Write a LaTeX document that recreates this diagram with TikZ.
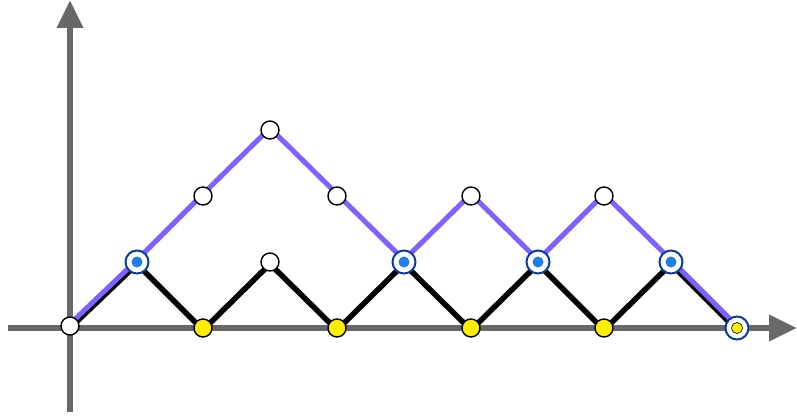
\documentclass[tikz,border=0pt]{standalone}
\usepackage{tikz}
\usetikzlibrary{arrows.meta}

\definecolor{axisgray}{HTML}{686868}
\definecolor{pathviolet}{HTML}{8060FF}
\definecolor{ringblue}{HTML}{0B3D9C}
\definecolor{dotblue}{HTML}{1E7FE8}
\definecolor{dotyellow}{HTML}{FFEE00}

\begin{document}
\begin{tikzpicture}[
    x=1pt, y=-1pt,
    axis/.style={draw=axisgray, line width=6.5pt, -{Triangle[length=28pt, width=25pt]}},
    lowpath/.style={draw=black, line width=5.5pt, line join=miter, transform canvas={yshift=-2pt}},
    highpath/.style={draw=pathviolet, line width=5pt, line join=miter, transform canvas={yshift=2pt}},
    plain/.style={circle, draw=black, line width=1.4pt, fill=white, minimum size=18pt, inner sep=0pt},
    ground/.style={circle, draw=black, line width=1.4pt, fill=dotyellow, minimum size=18pt, inner sep=0pt},
    marked/.style={circle, draw=ringblue, line width=2pt, fill=white, minimum size=23pt, inner sep=0pt,
      path picture={\fill[dotblue] (path picture bounding box.center) circle (5.5pt);}},
    markedend/.style={marked,
      path picture={\fill[draw=black, line width=0.6pt, fill=dotyellow] (path picture bounding box.center) circle (5.5pt);}}
  ]
  \useasboundingbox (0,0) rectangle (797,417);

  % axes
  \coordinate (xstart) at (8,328);
  \coordinate (xend) at (797,328);
  \coordinate (ystart) at (70,412);
  \coordinate (yend) at (70,0);
  \draw[axis] (xstart) -- (xend);
  \draw[axis] (ystart) -- (yend);

  % lattice points
  \coordinate (p0) at (70,326);
  \coordinate (p1) at (137,262);
  \coordinate (p2) at (203,328);
  \coordinate (p3) at (270,262);
  \coordinate (p4) at (337,328);
  \coordinate (p5) at (404,262);
  \coordinate (p6) at (471,328);
  \coordinate (p7) at (538,262);
  \coordinate (p8) at (604,328);
  \coordinate (p9) at (671,262);
  \coordinate (p10) at (737,328);

  \coordinate (q2) at (203,196);
  \coordinate (q3) at (270,130);
  \coordinate (q4) at (337,196);
  \coordinate (q6) at (471,196);
  \coordinate (q8) at (604,196);

  % paths
  \draw[lowpath] (p0) -- (p1) -- (p2) -- (p3) -- (p4) -- (p5) -- (p6) -- (p7) -- (p8) -- (p9) -- (p10);
  \draw[highpath] (p0) -- (p1) -- (q2) -- (q3) -- (q4) -- (p5) -- (q6) -- (p7) -- (q8) -- (p9) -- (p10);

  % vertices
  \node[plain] (n0) at (p0) {};
  \node[marked] (n1) at (p1) {};
  \node[ground] (n2) at (p2) {};
  \node[plain] (n3) at (p3) {};
  \node[ground] (n4) at (p4) {};
  \node[marked] (n5) at (p5) {};
  \node[ground] (n6) at (p6) {};
  \node[marked] (n7) at (p7) {};
  \node[ground] (n8) at (p8) {};
  \node[marked] (n9) at (p9) {};
  \node[markedend] (n10) at (p10) {};

  \node[plain] (m2) at (q2) {};
  \node[plain] (m3) at (q3) {};
  \node[plain] (m4) at (q4) {};
  \node[plain] (m6) at (q6) {};
  \node[plain] (m8) at (q8) {};
\end{tikzpicture}
\end{document}
